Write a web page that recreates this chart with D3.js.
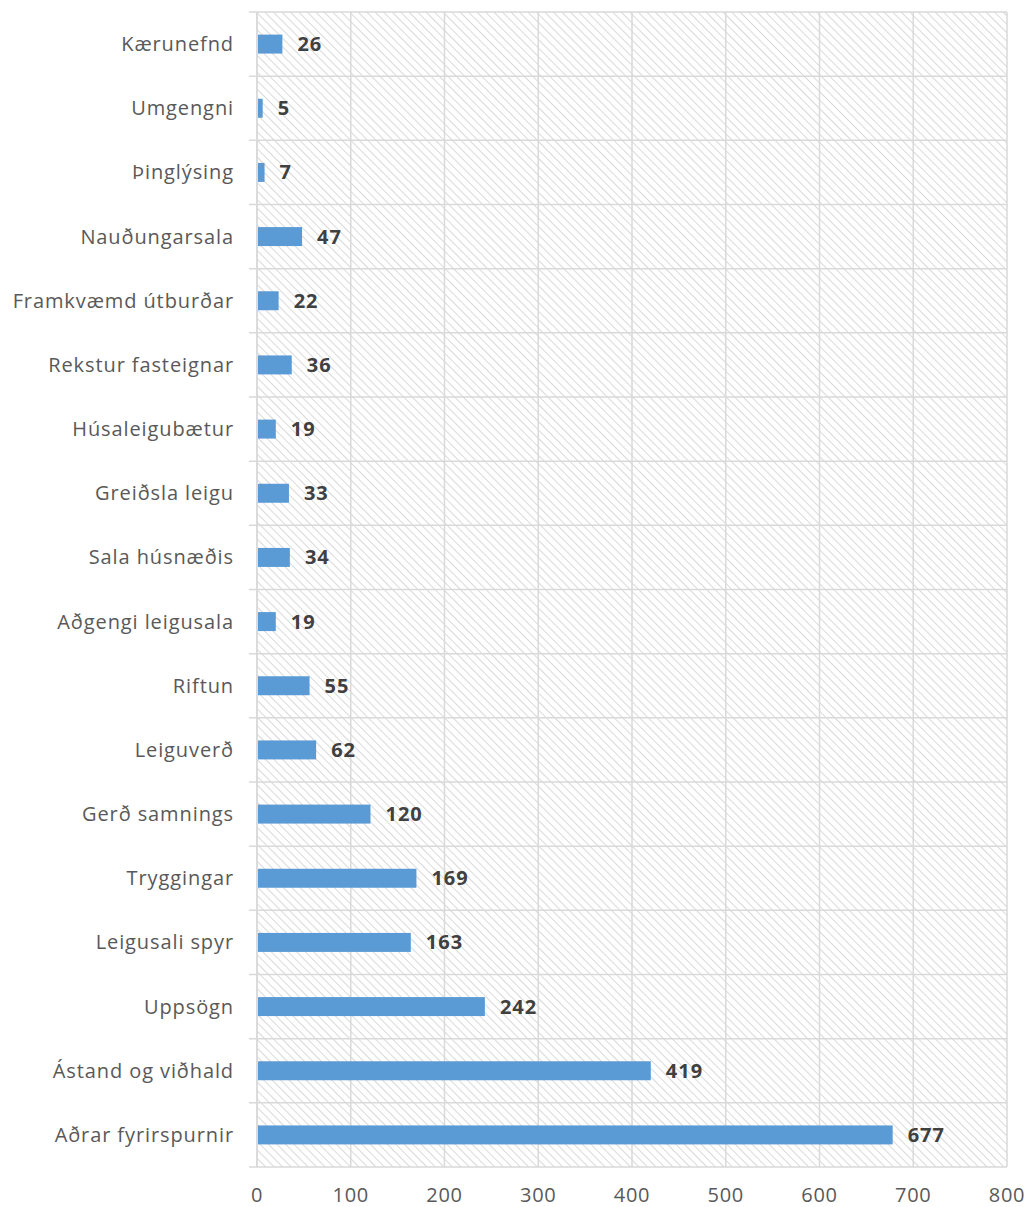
<!DOCTYPE html>
<html>
<head>
<meta charset="utf-8">
<script src="https://cdn.jsdelivr.net/npm/d3@7"></script>
<style>
  body { margin: 0; background: #fff; }
  svg text { font-family: "Open Sans", "Noto Sans", sans-serif; }
</style>
</head>
<body>
<div id="chart"></div>
<script>
// Categories top to bottom and their counts
const categories = [
  "Kærunefnd", "Umgengni", "Þinglýsing", "Nauðungarsala", "Framkvæmd útburðar",
  "Rekstur fasteignar", "Húsaleigubætur", "Greiðsla leigu", "Sala húsnæðis",
  "Aðgengi leigusala", "Riftun", "Leiguverð", "Gerð samnings", "Tryggingar",
  "Leigusali spyr", "Uppsögn", "Ástand og viðhald", "Aðrar fyrirspurnir"
];
const values = [26, 5, 7, 47, 22, 36, 19, 33, 34, 19, 55, 62, 120, 169, 163, 242, 419, 677];
const xTicks = [0, 100, 200, 300, 400, 500, 600, 700, 800];

const W = 1028, H = 1207;
const margin = { top: 12, right: 21, bottom: 40, left: 257 };
const width = W - margin.left - margin.right,
      height = H - margin.top - margin.bottom;

const svg = d3.select("#chart").append("svg")
    .attr("width", W).attr("height", H);

// hatch pattern for the plot background ("\" direction)
const defs = svg.append("defs");
const pat = defs.append("pattern")
    .attr("id", "hatch")
    .attr("patternUnits", "userSpaceOnUse")
    .attr("width", 6).attr("height", 6)
    .attr("patternTransform", "rotate(45)");
pat.append("line")
    .attr("x1", 0).attr("y1", 0).attr("x2", 6).attr("y2", 0)
    .attr("stroke", "#d9d9d9").attr("stroke-width", 2);

const g = svg.append("g")
    .attr("transform", `translate(${margin.left},${margin.top})`);

const x = d3.scaleLinear().domain([0, 800]).range([0, width]);
const y = d3.scaleBand().domain(categories).range([0, height]).paddingInner(0).paddingOuter(0);

g.append("rect")
    .attr("width", width).attr("height", height)
    .attr("fill", "url(#hatch)");

// vertical grid lines
g.selectAll(".vgrid").data(xTicks).enter().append("line")
    .attr("x1", d => x(d)).attr("x2", d => x(d))
    .attr("y1", 0).attr("y2", height)
    .attr("stroke", "#d9d9d9").attr("stroke-width", 1.5);

// horizontal grid lines at band boundaries
const bounds = categories.map(c => y(c)).concat([height]);
g.selectAll(".hgrid").data(bounds).enter().append("line")
    .attr("x1", -8).attr("x2", width)
    .attr("y1", d => d).attr("y2", d => d)
    .attr("stroke", "#d9d9d9").attr("stroke-width", 1.5);

// left axis line
g.append("line")
    .attr("x1", 0).attr("x2", 0).attr("y1", 0).attr("y2", height)
    .attr("stroke", "#d9d9d9").attr("stroke-width", 1.5);

// bars
const barH = 19;
g.selectAll(".bar").data(values).enter().append("rect")
    .attr("x", x(0) + 1)
    .attr("y", (d, i) => y(categories[i]) + y.bandwidth() / 2 - barH / 2)
    .attr("width", d => x(d) - x(0))
    .attr("height", barH)
    .attr("fill", "#5b9bd5");

// value labels
g.selectAll(".val").data(values).enter().append("text")
    .attr("x", d => x(d) + 16)
    .attr("y", (d, i) => y(categories[i]) + y.bandwidth() / 2)
    .attr("dy", "0.35em")
    .attr("font-size", 20)
    .attr("letter-spacing", 1)
    .attr("font-weight", "bold")
    .attr("fill", "#404040")
    .text(d => d);

// category labels
g.selectAll(".cat").data(categories).enter().append("text")
    .attr("x", -23)
    .attr("y", d => y(d) + y.bandwidth() / 2)
    .attr("dy", "0.35em")
    .attr("text-anchor", "end")
    .attr("font-size", 20)
    .attr("letter-spacing", 0.9)
    .attr("fill", "#595959")
    .text(d => d);

// x tick labels
g.selectAll(".xt").data(xTicks).enter().append("text")
    .attr("x", d => x(d))
    .attr("y", height + 28)
    .attr("dy", "0.35em")
    .attr("text-anchor", "middle")
    .attr("font-size", 20)
    .attr("letter-spacing", 0.8)
    .attr("fill", "#595959")
    .text(d => d);
</script>
</body>
</html>
